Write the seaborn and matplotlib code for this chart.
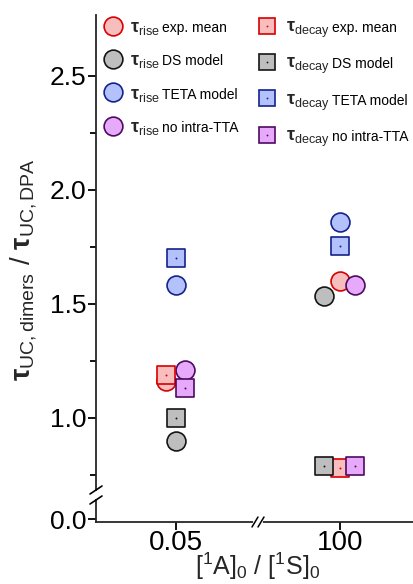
import matplotlib
matplotlib.use("Agg")
import matplotlib.pyplot as plt
from matplotlib.lines import Line2D
import seaborn as sns
import pandas as pd

# ---------------- data ----------------
categories = ["0.05", "100"]
models = ["exp. mean", "DS model", "TETA model", "no intra-TTA"]

rise_exp = [1.16, 1.60]
rise_ds = [0.90, 1.535]
rise_teta = [1.585, 1.86]
rise_nointra = [1.21, 1.585]

decay_exp = [1.19, 0.78]
decay_ds = [1.00, 0.79]
decay_teta = [1.70, 1.755]
decay_nointra = [1.13, 0.79]

# horizontal offsets (avoid overlap), per model per category
offsets = {
    "exp. mean": [-0.06, 0.0],
    "DS model": [0.0, -0.10],
    "TETA model": [0.0, 0.0],
    "no intra-TTA": [0.055, 0.093],
}

faces = {"exp. mean": "#F8BEBE", "DS model": "#BEBEBE",
         "TETA model": "#B3C1FD", "no intra-TTA": "#E7A9F9"}
edges = {"exp. mean": "#D80000", "DS model": "#151515",
         "TETA model": "#14238C", "no intra-TTA": "#4E0A60"}

rise = {"exp. mean": rise_exp, "DS model": rise_ds,
        "TETA model": rise_teta, "no intra-TTA": rise_nointra}
decay = {"exp. mean": decay_exp, "DS model": decay_ds,
         "TETA model": decay_teta, "no intra-TTA": decay_nointra}

rows = []
for kind, d in (("rise", rise), ("decay", decay)):
    for m in models:
        for i, c in enumerate(categories):
            rows.append({"kind": kind, "model": m, "cat": c,
                         "x": i + offsets[m][i], "value": d[m][i]})
df = pd.DataFrame(rows)

# ---------------- style ----------------
sns.set_theme(style="ticks")
plt.rcParams["font.family"] = ["Liberation Sans", "DejaVu Sans"]
plt.rcParams["mathtext.fontset"] = "custom"
plt.rcParams["mathtext.rm"] = "Liberation Sans"
plt.rcParams["mathtext.it"] = "Liberation Sans:italic"
plt.rcParams["mathtext.bf"] = "Liberation Sans:bold"

W, H = 414, 584
fig = plt.figure(figsize=(W / 100, H / 100), dpi=100)
L = 96 / W
R = 413 / W
ax = fig.add_axes([L, 1 - 490 / H, R - L, (490 - 15) / H])
axb = fig.add_axes([L, 1 - 522 / H, R - L, (522 - 500) / H])

xlim = (-80 / 164, 1 + 73 / 164)
circle_s = 185
square_s = 150
lw = 1.2

for kind, marker, s in (("rise", "o", circle_s), ("decay", "s", square_s)):
    for m in models:
        sub = df[(df.kind == kind) & (df.model == m)]
        sns.scatterplot(data=sub, x="x", y="value", ax=ax, marker=marker, s=s,
                        color=faces[m], edgecolor=edges[m], linewidth=lw,
                        legend=False, zorder=3)
        if kind == "decay":
            sns.scatterplot(data=sub, x="x", y="value", ax=ax, marker="o", s=2,
                            color=edges[m], edgecolor=edges[m], linewidth=0,
                            legend=False, zorder=4)

ax.set_xlim(*xlim)
axb.set_xlim(*xlim)
ax.set_ylim(0.684, 2.7675)
axb.set_ylim(-0.0136, 0.0864)

spw = 1.3
for a in (ax, axb):
    a.spines["top"].set_visible(False)
    a.spines["right"].set_visible(False)
    a.spines["left"].set_linewidth(spw)
    a.spines["bottom"].set_linewidth(spw)
    a.set_facecolor("none")
    a.set_xlabel("")
    a.set_ylabel("")

ax.spines["bottom"].set_visible(False)
ax.set_xticks([])
ax.set_yticks([1.0, 1.5, 2.0, 2.5])
ax.set_yticklabels(["1.0", "1.5", "2.0", "2.5"])
ax.set_yticks([0.75, 1.25, 1.75, 2.25], minor=True)
ax.tick_params(axis="y", which="major", direction="out", length=6, width=spw,
               labelsize=19, pad=1, color="black", labelcolor="black")
ax.tick_params(axis="y", which="minor", direction="out", length=4, width=spw,
               color="black")

axb.set_yticks([0.0])
axb.set_yticklabels(["0.0"])
axb.set_xticks([0, 1])
axb.set_xticklabels(categories)
axb.tick_params(axis="y", which="major", direction="out", length=6,
                width=spw, labelsize=19, pad=1, color="black",
                labelcolor="black")
axb.tick_params(axis="x", which="major", direction="out", length=6,
                width=spw, labelsize=20, pad=0, color="black",
                labelcolor="black")

inv = fig.transFigure.inverted()

# break marks on y axis
def slash(a, xa, ya, dx=6, dy=4):
    x0, y0 = a.transAxes.transform((xa, ya))
    p0 = inv.transform((x0 - dx, y0 - dy))
    p1 = inv.transform((x0 + dx, y0 + dy))
    fig.add_artist(Line2D([p0[0], p1[0]], [p0[1], p1[1]], color="black",
                          lw=1.2, transform=fig.transFigure))

slash(ax, 0, 0)
slash(axb, 0, 1)

# break on x axis
xb = (258 - 96) / (413 - 96)
bx, by = axb.transAxes.transform((xb, 0))
g0 = inv.transform((bx - 3, by))
g1 = inv.transform((bx + 3, by))
fig.add_artist(Line2D([g0[0], g1[0]], [g0[1], g1[1]], color="white", lw=3,
                      transform=fig.transFigure, zorder=5))
for sx in (-3, 3):
    p0 = inv.transform((bx + sx - 3, by - 5))
    p1 = inv.transform((bx + sx + 3, by + 5))
    fig.add_artist(Line2D([p0[0], p1[0]], [p0[1], p1[1]], color="black",
                          lw=1.1, transform=fig.transFigure, zorder=6))

# axis labels
fig.text(24 / W, 1 - 270 / H,
         r"$\mathbf{\tau}_{\mathrm{UC,dimers}}$ / $\mathbf{\tau}_{\mathrm{UC,DPA}}$",
         rotation=90, ha="center", va="center", fontsize=20)
fig.text(258 / W, 1 - 566 / H,
         r"$[^{1}\mathrm{A}]_{0}$ / $[^{1}\mathrm{S}]_{0}$",
         ha="center", va="center", fontsize=18)

# legend (two columns as two legends)
rise_handles = []
decay_handles = []
for m in models:
    rise_handles.append(Line2D([], [], marker="o", ls="none", markersize=13.5,
                               markerfacecolor=faces[m], markeredgecolor=edges[m],
                               markeredgewidth=lw))
    sq = Line2D([], [], marker="s", ls="none", markersize=12,
                markerfacecolor=faces[m], markeredgecolor=edges[m],
                markeredgewidth=lw)
    dot = Line2D([], [], marker="o", ls="none", markersize=1.3,
                 markerfacecolor=edges[m], markeredgecolor=edges[m],
                 markeredgewidth=0)
    decay_handles.append((sq, dot))

rise_labels = [r"$\mathbf{\tau}_{\mathrm{rise}}$"] * 4
decay_labels = [r"$\mathbf{\tau}_{\mathrm{decay}}$"] * 4

fs_leg = 13
hl = 1.2
common = dict(loc="upper left", frameon=False, fontsize=fs_leg,
              handlelength=hl, borderpad=0.0, borderaxespad=0.0,
              labelspacing=0.85)
ax_w_px = 413 - 96
leg_h_top = 1 - 4 / 475
x1 = (113 - 96 - hl * fs_leg * 100 / 72 / 2) / ax_w_px
x2 = (267 - 96 - hl * fs_leg * 100 / 72 / 2) / ax_w_px
leg1 = ax.legend(rise_handles, rise_labels, bbox_to_anchor=(x1, leg_h_top),
                 handletextpad=0.35, **common)
ax.add_artist(leg1)
leg2 = ax.legend(decay_handles, decay_labels, bbox_to_anchor=(x2, leg_h_top),
                 handletextpad=0.45, **common)

fig.canvas.draw()
renderer = fig.canvas.get_renderer()
for leg in (leg1, leg2):
    for txt, m in zip(leg.get_texts(), models):
        bb = txt.get_window_extent(renderer)
        bx0, by0 = txt.get_transform().transform(txt.get_position())
        p = inv.transform((bb.x1 + 2, by0))
        fig.text(p[0], p[1], m, fontsize=10, ha="left", va="baseline",
                 color="black")

fig.savefig("out.png", dpi=100)
